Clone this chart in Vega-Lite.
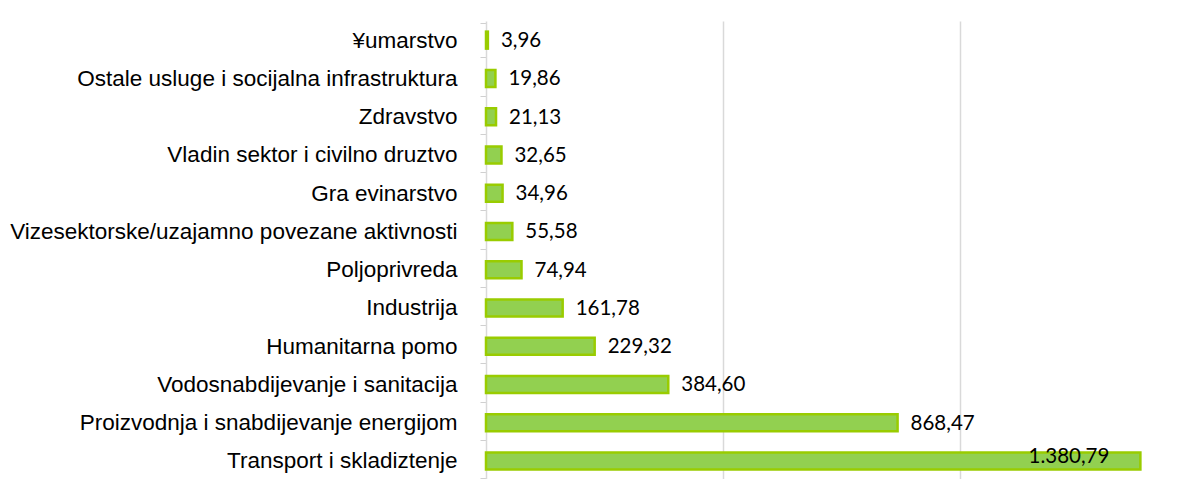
{
  "$schema": "https://vega.github.io/schema/vega-lite/v6.json",
  "width": 705,
  "height": 459,
  "autosize": {"type": "none"},
  "padding": {"left": 486, "top": 21, "right": 0, "bottom": 0},
  "background": "white",
  "config": {
    "view": {"stroke": null},
    "locale": {"number": {"decimal": ",", "thousands": ".", "grouping": [3], "currency": ["", ""]}}
  },
  "data": {
    "values": [
      {"sector": "¥umarstvo", "value": 3.96},
      {"sector": "Ostale usluge i socijalna infrastruktura", "value": 19.86},
      {"sector": "Zdravstvo", "value": 21.13},
      {"sector": "Vladin sektor i civilno druztvo", "value": 32.65},
      {"sector": "Gra evinarstvo", "value": 34.96},
      {"sector": "Vizesektorske/uzajamno povezane aktivnosti", "value": 55.58},
      {"sector": "Poljoprivreda", "value": 74.94},
      {"sector": "Industrija", "value": 161.78},
      {"sector": "Humanitarna pomo", "value": 229.32},
      {"sector": "Vodosnabdijevanje i sanitacija", "value": 384.6},
      {"sector": "Proizvodnja i snabdijevanje energijom", "value": 868.47},
      {"sector": "Transport i skladiztenje", "value": 1380.79}
    ]
  },
  "encoding": {
    "y": {
      "field": "sector",
      "type": "nominal",
      "sort": null,
      "axis": {
        "title": null,
        "domainColor": "#d9d9d9",
        "domainWidth": 1.5,
        "tickBand": "extent",
        "tickColor": "#d0d0d0",
        "tickSize": 6,
        "labelFont": "Liberation Sans",
        "labelFontSize": 22.5,
        "labelColor": "#000000",
        "labelPadding": 23,
        "labelLimit": 600
      }
    }
  },
  "layer": [
    {
      "mark": {"type": "bar", "size": 17, "fill": "#92d050", "stroke": "#99cc00", "strokeWidth": 2.5},
      "encoding": {
        "x": {
          "field": "value",
          "type": "quantitative",
          "scale": {"domain": [0, 1487.6], "nice": false, "zero": true},
          "axis": {
            "title": null,
            "values": [500, 1000],
            "grid": true,
            "gridColor": "#d9d9d9",
            "gridWidth": 1.5,
            "labels": false,
            "ticks": false,
            "domain": false
          }
        }
      }
    },
    {
      "transform": [{"filter": "datum.value < 1000"}],
      "mark": {"type": "text", "align": "left", "baseline": "middle", "dx": 13, "dy": 1, "font": "Lato", "fontSize": 20.5, "color": "#000000"},
      "encoding": {
        "x": {"field": "value", "type": "quantitative"},
        "text": {"field": "value", "type": "quantitative", "format": ",.2f"}
      }
    },
    {
      "transform": [{"filter": "datum.value >= 1000"}],
      "mark": {"type": "text", "align": "right", "baseline": "middle", "dx": -31, "dy": -4, "font": "Lato", "fontSize": 20.5, "color": "#000000"},
      "encoding": {
        "x": {"field": "value", "type": "quantitative"},
        "text": {"field": "value", "type": "quantitative", "format": ",.2f"}
      }
    }
  ]
}
